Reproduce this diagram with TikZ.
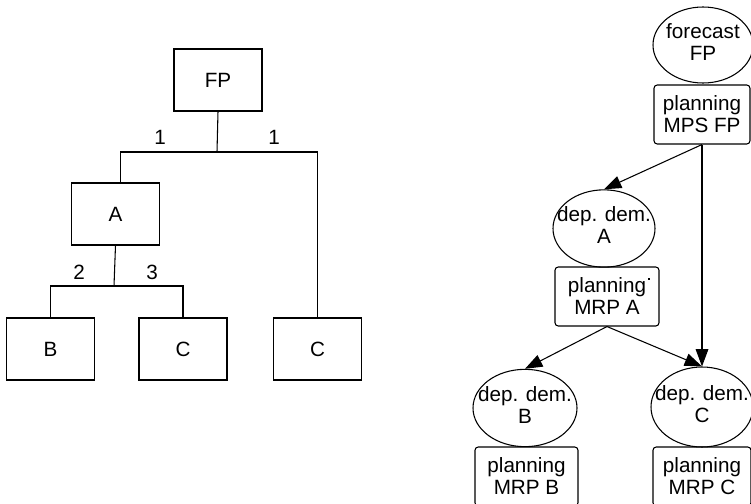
\documentclass[tikz,border=0pt]{standalone}
\usepackage{fontspec}
\setmainfont{Liberation Sans}
\usetikzlibrary{shapes.geometric,arrows.meta}
% text of zero width, so the ellipse keeps its given size
\newcommand{\zwtext}[1]{\makebox[0pt][c]{\begin{tabular}{@{}c@{}}#1\end{tabular}}}
\begin{document}
\begin{tikzpicture}[x=0.75pt,y=-0.75pt,
  every node/.style={font=\fontsize{15.5}{16.5}\selectfont},
  line/.style={draw=black,line width=0.8pt},
  box/.style={line,rectangle,minimum width=66pt,minimum height=46.5pt,inner sep=0pt},
  rbox/.style={line,rectangle,rounded corners=2.4pt,minimum height=44.25pt,inner sep=0pt,align=center},
  oval/.style={line,ellipse,minimum width=76.5pt,minimum height=58pt,inner sep=0pt},
  lbl/.style={inner sep=0pt},
  arr/.style={line,-{Triangle[length=13pt,width=9.5pt]}}]
\path[use as bounding box] (0,0) rectangle (751,504);
\clip (0,0) rectangle (751,504);

% ---- product structure tree ----
\node[box] (fp) at (218,80) {FP};
\node[box] (a)  at (115.5,214) {A};
\node[box] (b)  at (50.5,349) {B};
\node[box] (c1) at (183,349) {C};
\node[box] (c2) at (317.5,349) {C};

\coordinate (j1) at (217,152);
\coordinate (j2) at (114,286);
\draw[line] (fp.south) -- (j1);
\draw[line] ([xshift=3.4pt]a.north) |- (j1) -| (c2.north);
\draw[line] (a.south) -- (j2);
\draw[line] (b.north) |- (j2) -| (c1.north);

\node[lbl] (q1) at (160,137) {1};
\node[lbl] (q2) at (274,137) {1};
\node[lbl] (q3) at (79,272) {2};
\node[lbl] (q4) at (152,272) {3};

% ---- planning network ----
\node[oval,minimum width=75pt,minimum height=57pt] (fc) at (703,45) {\zwtext{forecast\\FP}};
\node[rbox,minimum width=72pt] (mps) at (702,114.5) {planning\\MPS FP};

\node[oval] (da) at (604,228.5) {\zwtext{dep. dem.\\A}};
\node[rbox,minimum width=78pt] (mrpa) at (607,296.5) {planning\\MRP A};
\fill (647.8,277.8) rectangle (650.2,280.2);

\node[oval,minimum width=78pt] (db) at (525,408) {\zwtext{dep. dem.\\B}};
\node[oval,minimum height=60pt] (dc) at (702,407) {\zwtext{dep. dem.\\C}};
\node[rbox,minimum width=77.25pt] (mrpb) at (526.5,476.5) {planning\\MRP B};
\node[rbox,minimum width=73.5pt] (mrpc) at (702,476.5) {planning\\MRP C};

\draw[arr] (mps.south) -- (da.north);
\draw[arr] (mps.south) -- (dc.north);
\draw[arr] (mrpa.south) -- (db.north);
\draw[arr] (mrpa.south) -- (dc.north);
\end{tikzpicture}
\end{document}
